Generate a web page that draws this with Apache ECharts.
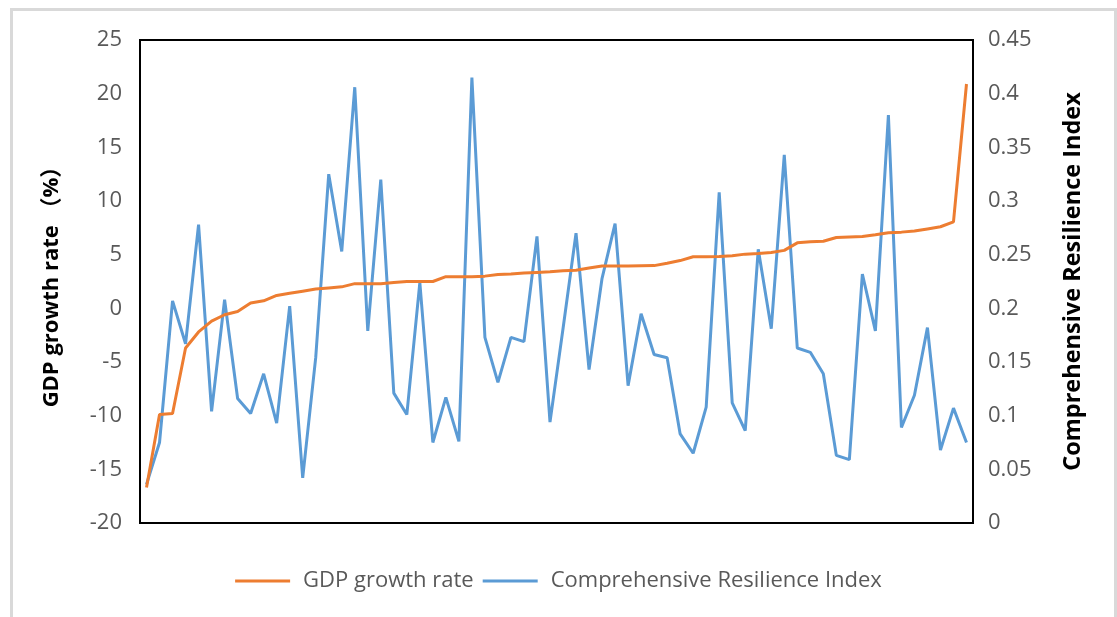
<!DOCTYPE html>
<html>
<head>
<meta charset="utf-8">
<script src="https://cdn.jsdelivr.net/npm/echarts@6/dist/echarts.min.js"></script>
<style>
html,body{margin:0;padding:0;background:#fff;}
#chart{width:1117px;height:617px;}
</style>
</head>
<body>
<div id="chart"></div>
<script>
var categories = [];
for (var i = 1; i <= 64; i++) categories.push(String(i));

var gdpGrowth = [-16.7, -9.9, -9.8, -3.7, -2.2, -1.2, -0.6, -0.3, 0.5, 0.7, 1.2, 1.4, 1.6, 1.8, 1.9, 2.0,
  2.3, 2.3, 2.3, 2.4, 2.5, 2.5, 2.5, 2.95, 2.95, 2.95, 3.0, 3.15, 3.2, 3.3, 3.35, 3.4,
  3.5, 3.55, 3.75, 3.95, 3.95, 3.95, 3.97, 3.98, 4.2, 4.45, 4.8, 4.8, 4.83, 4.9, 5.05, 5.1,
  5.2, 5.4, 6.1, 6.2, 6.25, 6.6, 6.65, 6.7, 6.85, 7.05, 7.1, 7.2, 7.4, 7.6, 8.05, 20.9];

var resilienceIndex = [0.036, 0.075, 0.207, 0.167, 0.278, 0.104, 0.208, 0.116, 0.102, 0.139, 0.093, 0.202, 0.042, 0.154, 0.325, 0.253,
  0.406, 0.179, 0.320, 0.121, 0.101, 0.224, 0.075, 0.117, 0.076, 0.415, 0.173, 0.131, 0.173, 0.169, 0.267, 0.094,
  0.181, 0.270, 0.143, 0.228, 0.279, 0.128, 0.195, 0.157, 0.154, 0.083, 0.065, 0.108, 0.308, 0.112, 0.086, 0.255,
  0.181, 0.343, 0.163, 0.159, 0.139, 0.063, 0.059, 0.232, 0.179, 0.380, 0.089, 0.119, 0.182, 0.068, 0.107, 0.075];

var seriesNames = ['GDP growth rate', 'Comprehensive Resilience Index'];
var axisTitles = ['GDP growth rate （%）', 'Comprehensive Resilience Index'];

var FONT = '"Open Sans", "Noto Sans", "Noto Sans CJK SC", sans-serif';
var chart = echarts.init(document.getElementById('chart'), null, {renderer: 'canvas'});
chart.setOption({
  animation: false,
  backgroundColor: '#ffffff',
  textStyle: {fontFamily: FONT},
  graphic: [{
    type: 'rect',
    left: 9, top: 7,
    shape: {x: 0, y: 0, width: 1104, height: 640},
    style: {fill: 'none', stroke: '#d9d9d9', lineWidth: 3},
    silent: true
  }],
  grid: {
    left: 140, right: 144, top: 40, bottom: 94,
    show: true, borderColor: '#000000', borderWidth: 2, backgroundColor: 'transparent'
  },
  legend: {
    left: 'center', top: 565,
    itemWidth: 55, itemHeight: 3, itemGap: 9,
    icon: 'rect',
    textStyle: {fontFamily: FONT, fontSize: 22, color: '#595959', padding: [0, 0, 0, 8]},
    data: seriesNames
  },
  xAxis: {
    type: 'category',
    data: categories,
    boundaryGap: true,
    axisLine: {show: false},
    axisTick: {show: false},
    axisLabel: {show: false},
    splitLine: {show: false}
  },
  yAxis: [{
    type: 'value',
    min: -20, max: 25, interval: 5,
    position: 'left',
    axisLine: {show: false},
    axisTick: {show: false},
    splitLine: {show: false},
    axisLabel: {fontFamily: FONT, fontSize: 22, color: '#595959', margin: 18},
    name: axisTitles[0],
    nameLocation: 'middle',
    nameRotate: 90,
    nameGap: 77,
    nameTextStyle: {fontFamily: FONT, fontSize: 22, fontWeight: 'bold', color: '#000000'}
  }, {
    type: 'value',
    min: 0, max: 0.45, interval: 0.05,
    position: 'right',
    axisLine: {show: false},
    axisTick: {show: false},
    splitLine: {show: false},
    axisLabel: {fontFamily: FONT, fontSize: 22, color: '#595959', margin: 15,
      formatter: function (v) { return String(+v.toFixed(2)); }},
    name: axisTitles[1],
    nameLocation: 'middle',
    nameRotate: 90,
    nameGap: 89,
    nameTextStyle: {fontFamily: FONT, fontSize: 23.5, fontWeight: 'bold', color: '#000000'}
  }],
  series: [{
    name: seriesNames[0],
    type: 'line',
    yAxisIndex: 0,
    data: gdpGrowth,
    showSymbol: false,
    symbol: 'none',
    lineStyle: {color: '#ED7D31', width: 3},
    itemStyle: {color: '#ED7D31'},
    z: 3
  }, {
    name: seriesNames[1],
    type: 'line',
    yAxisIndex: 1,
    data: resilienceIndex,
    showSymbol: false,
    symbol: 'none',
    lineStyle: {color: '#5B9BD5', width: 3},
    itemStyle: {color: '#5B9BD5'},
    z: 2
  }]
});
</script>
</body>
</html>
